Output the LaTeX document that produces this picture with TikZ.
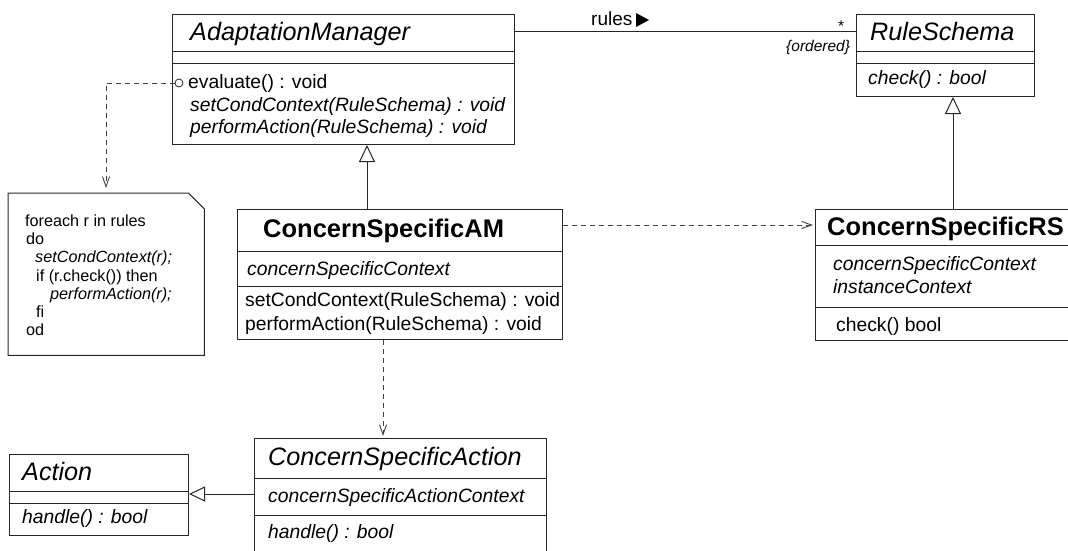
\documentclass[tikz,border=0pt]{standalone}
\usepackage{fontspec}
\setmainfont{Liberation Sans}
\usetikzlibrary{arrows.meta}
\begin{document}
\begin{tikzpicture}[x=1pt,y=-1pt,
  box/.style={draw=black!85, line width=1pt, fill=white, anchor=north west, inner sep=0pt, rectangle},
  sep/.style={draw=black!85, line width=1pt},
  cname/.style={anchor=base west, inner sep=0pt, font=\fontsize{25.2}{30}\selectfont\itshape},
  bname/.style={anchor=base west, inner sep=0pt, font=\fontsize{25.5}{30}\selectfont\bfseries},
  mem/.style={anchor=base west, inner sep=0pt, font=\fontsize{19.3}{23}\selectfont},
  imem/.style={anchor=base west, inner sep=0pt, font=\fontsize{19.3}{23}\selectfont\itshape},
  ntxt/.style={anchor=base west, inner sep=0pt, font=\fontsize{16.2}{19}\selectfont},
  intxt/.style={anchor=base west, inner sep=0pt, font=\fontsize{16.2}{19}\selectfont\itshape},
  small/.style={anchor=base west, inner sep=0pt, font=\fontsize{15.5}{18}\selectfont\itshape},
  conn/.style={draw=black!85, line width=1pt},
  gen/.style={conn, -{Triangle[open, length=17pt, width=16pt, fill=white]}},
  dep/.style={draw=black!75, line width=0.9pt, dash pattern=on 5pt off 4pt, -{Straight Barb[length=10pt, width=7pt]}}
]
\useasboundingbox (0,0) rectangle (1068,550);

% AdaptationManager
\node[box, minimum width=342pt, minimum height=130pt] (am) at (172,14) {};
\draw[sep] (am.west |- 0,51) -- (am.east |- 0,51);
\draw[sep] (am.west |- 0,63) -- (am.east |- 0,63);
\node[cname] (amname) at (190,40) {AdaptationManager};
\node[mem] (ameval) at (188,88) {evaluate() : void};
\node[imem] (amset) at (190,111) {setCondContext(RuleSchema) : void};
\node[imem] (amperf) at (190,133) {performAction(RuleSchema) : void};
\node[circle, draw=black!85, line width=0.8pt, fill=white, inner sep=0pt, minimum size=8pt] (circ) at (179,83) {};

% RuleSchema
\node[box, minimum width=178pt, minimum height=82pt] (rs) at (856,14) {};
\draw[sep] (rs.west |- 0,51) -- (rs.east |- 0,51);
\draw[sep] (rs.west |- 0,63) -- (rs.east |- 0,63);
\node[cname] (rsname) at (870,40) {RuleSchema};
\node[imem] (rscheck) at (868,84) {check() : bool};

% association
\draw[conn] (am.east |- 0,31) -- (rs.west |- 0,31);
\node[mem, font=\fontsize{19}{23}\selectfont] (rules) at (591,25) {rules};
\fill[black] (636,13) -- (649,20) -- (636,27) -- cycle;
\node[anchor=base west, inner sep=0pt, font=\fontsize{15.5}{18}\selectfont] (star) at (838,31) {*};
\node[small] (ordered) at (786,51) {\{ordered\}};

% ConcernSpecificAM
\node[box, minimum width=325pt, minimum height=130pt] (csam) at (237,209) {};
\draw[sep] (csam.west |- 0,251) -- (csam.east |- 0,251);
\draw[sep] (csam.west |- 0,286) -- (csam.east |- 0,286);
\node[bname] (csamname) at (263,237) {ConcernSpecificAM};
\node[imem] (csamattr) at (247,275) {concernSpecificContext};
\node[mem] (csamset) at (245,306) {setCondContext(RuleSchema) : void};
\node[mem] (csamperf) at (245,330) {performAction(RuleSchema) : void};

% ConcernSpecificRS
\node[box, minimum width=265pt, minimum height=131pt] (csrs) at (815,209) {};
\draw[sep] (csrs.west |- 0,245) -- (csrs.east |- 0,245);
\draw[sep] (csrs.west |- 0,307) -- (csrs.east |- 0,307);
\node[bname] (csrsname) at (827,235) {ConcernSpecificRS};
\node[imem] (csrsa1) at (833,270) {concernSpecificContext};
\node[imem] (csrsa2) at (833,293) {instanceContext};
\node[mem] (csrscheck) at (836,331) {check() bool};

% Note
\node[minimum width=196pt, minimum height=162pt, anchor=north west, inner sep=0pt] (note) at (8,193) {};
\draw[conn] (note.north west) -- ([xshift=-16pt]note.north east) -- ([yshift=-16pt]note.north east) -- (note.south east) -- (note.south west) -- cycle;
\node[ntxt] (n1) at (25,226) {foreach r in rules};
\node[ntxt] (n2) at (26,244) {do};
\node[intxt] (n3) at (35,262) {setCondContext(r);};
\node[ntxt] (n4) at (36,281) {if (r.check()) then};
\node[intxt] (n5) at (50,299) {performAction(r);};
\node[ntxt] (n6) at (36,317) {fi};
\node[ntxt] (n7) at (26,335) {od};

% Action
\node[box, minimum width=179pt, minimum height=81pt] (act) at (9,454) {};
\draw[sep] (act.west |- 0,491) -- (act.east |- 0,491);
\draw[sep] (act.west |- 0,503) -- (act.east |- 0,503);
\node[cname] (actname) at (22,480) {Action};
\node[imem] (acthandle) at (22,523) {handle() : bool};

% ConcernSpecificAction
\node[box, minimum width=292pt, minimum height=125pt] (csact) at (254,438) {};
\draw[sep] (csact.west |- 0,478) -- (csact.east |- 0,478);
\draw[sep] (csact.west |- 0,515) -- (csact.east |- 0,515);
\node[cname] (csactname) at (268,465) {ConcernSpecificAction};
\node[imem] (csactattr) at (268,502) {concernSpecificActionContext};
\node[imem] (csacthandle) at (268,538) {handle() : bool};

% connectors
\draw[gen] (csam.north -| 367,0) -- (am.south -| 367,0);
\draw[gen] (csrs.north -| 953,0) -- (rs.south -| 953,0);
\draw[gen, -{Triangle[open, length=16pt, width=15pt, fill=white]}] (csact.west |- 0,494) -- (act.east |- 0,494);
\draw[dep] (circ.west) -- (circ.west -| 106,0) -- ([yshift=5pt]note.north -| 106,0);
\draw[dep] (csam.east |- 0,225) -- ([xshift=-2pt]csrs.west |- 0,225);
\draw[dep] (csam.south -| 383,0) -- ([yshift=2pt]csact.north -| 383,0);
\end{tikzpicture}
\end{document}
